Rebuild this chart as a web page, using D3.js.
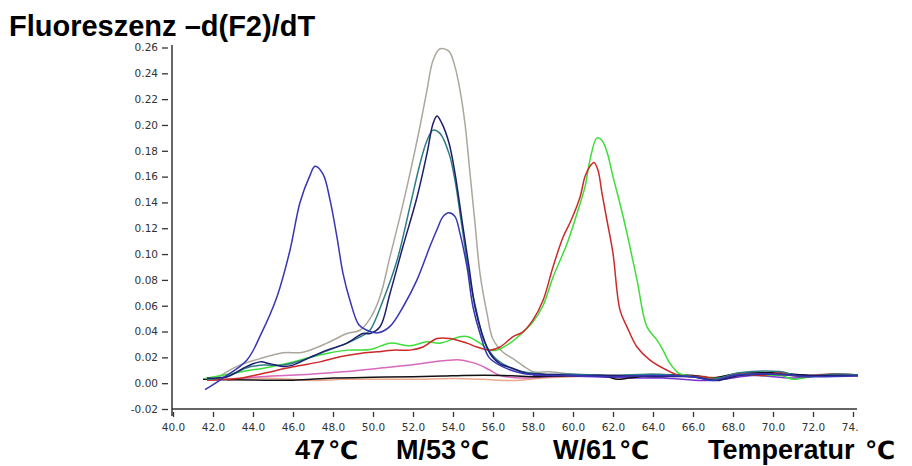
<!DOCTYPE html>
<html>
<head>
<meta charset="utf-8">
<script src="https://cdn.jsdelivr.net/npm/d3@7"></script>
<style>
  body { margin: 0; background: #fff; }
  svg { display: block; }
</style>
</head>
<body>
<div id="chart"></div>
<script>
// melting curves, [temperature, -d(F2)/dT]
const xTicks = [40, 42, 44, 46, 48, 50, 52, 54, 56, 58, 60, 62, 64, 66, 68, 70, 72, 74];
const yTicks = [-0.02, 0, 0.02, 0.04, 0.06, 0.08, 0.10, 0.12, 0.14, 0.16, 0.18, 0.20, 0.22, 0.24, 0.26];

const greyCurve = [[42,0.002],[43.2,0.013],[44.35,0.019],[45.5,0.0235],[46.5,0.024],[47.7,0.031],[48.7,0.0385],[49.35,0.041],[49.85,0.05],[50.35,0.067],[50.85,0.098],[51.35,0.129],[51.85,0.1625],[52.35,0.199],[52.7,0.227],[53.0,0.25],[53.35,0.259],[53.8,0.257],[54.1,0.245],[54.35,0.227],[54.6,0.201],[54.85,0.1625],[55.1,0.124],[55.35,0.085],[55.7,0.054],[56.0,0.034],[56.5,0.024],[57.0,0.019],[57.7,0.0114],[58.0,0.0088],[58.85,0.0088],[60,0.007],[62,0.006],[64,0.007],[65.5,0.006],[66.8,0.004],[67.7,0.005],[68.3,0.008],[69.5,0.006],[70.3,0.009],[71.2,0.005],[72.5,0.007],[74.5,0.006]];

const greenCurve = [[41.6,0.0036],[43.5,0.009],[44.85,0.0126],[46,0.0165],[46.85,0.02],[47.7,0.023],[48.7,0.0256],[49.85,0.026],[50.85,0.031],[51.85,0.029],[52.7,0.032],[53.35,0.031],[54.35,0.036],[54.75,0.036],[55.35,0.031],[55.85,0.0256],[56.2,0.0256],[56.85,0.031],[57.5,0.0395],[58,0.0475],[58.5,0.06],[59,0.082],[59.7,0.108],[60.2,0.1315],[60.6,0.152],[60.85,0.173],[61.2,0.19],[61.45,0.188],[61.7,0.179],[62,0.16],[62.35,0.139],[62.7,0.116],[63.2,0.08],[63.7,0.0436],[64.2,0.0333],[64.5,0.0256],[64.85,0.0153],[65.3,0.0075],[65.7,0.006],[66.6,0.004],[67.5,0.004],[68.3,0.007],[69.5,0.006],[70.4,0.006],[71,0.003],[72.3,0.006],[74.5,0.006]];

const redCurve = [[41.7,0.0023],[43.2,0.0036],[44.35,0.007],[46,0.0127],[47.35,0.0165],[48.35,0.0204],[49.35,0.023],[50.2,0.0243],[51,0.0256],[51.85,0.0256],[52.5,0.028],[53.2,0.0346],[53.85,0.0346],[54.7,0.031],[55.2,0.028],[55.85,0.0256],[56.35,0.028],[57.0,0.036],[57.5,0.0398],[58,0.049],[58.5,0.064],[59,0.09],[59.5,0.113],[59.9,0.126],[60.35,0.144],[60.6,0.16],[60.85,0.168],[61.05,0.171],[61.25,0.165],[61.45,0.147],[61.7,0.126],[62,0.1005],[62.35,0.0566],[62.7,0.0436],[63.2,0.028],[63.85,0.0178],[64.7,0.01],[65.35,0.006],[66.5,0.005],[67.3,0.003],[68.2,0.007],[69.5,0.006],[70.3,0.008],[71.5,0.005],[72.8,0.007],[74.5,0.006]];

const pinkCurve = [[42.7,0.0023],[44.35,0.005],[46.85,0.007],[48.5,0.0088],[50.2,0.0114],[51.85,0.014],[53.5,0.0173],[54.35,0.018],[54.85,0.0165],[55.35,0.014],[55.85,0.01],[56.35,0.006],[57.5,0.004],[59,0.005],[61,0.006],[63,0.005],[65,0.006],[66.7,0.004],[68,0.006],[70,0.007],[72,0.006],[74.5,0.006]];

const salmonCurve = [[42.5,0.003],[44,0.004],[45.5,0.0035],[47,0.002],[48.5,0.003],[50,0.003],[52,0.003],[54,0.0036],[55.5,0.003],[57,0.002],[58.5,0.004],[60,0.005],[62,0.006],[64,0.005],[66,0.006],[67.5,0.004],[69,0.007],[71,0.006],[74.5,0.006]];

const blackCurve = [[41.5,0.003],[44,0.0025],[46,0.0023],[48,0.004],[50,0.0046],[52,0.005],[53.5,0.0055],[54.5,0.006],[56.5,0.006],[58,0.005],[60,0.006],[61.5,0.006],[62.2,0.003],[62.8,0.004],[64,0.006],[66,0.006],[67,0.004],[68,0.007],[70,0.008],[72,0.006],[74.5,0.006]];

const purpleCurve = [[58,0.006],[61,0.005],[63,0.004],[64.5,0.004],[66.5,0.002],[67.5,0.003],[69,0.006],[71,0.004],[72.5,0.006],[74.5,0.006]];

const tealCurve = [[41.7,0.003],[42.7,0.005],[43.7,0.012],[44.5,0.014],[45.5,0.014],[46.5,0.018],[47.7,0.025],[48.7,0.031],[49.5,0.037],[49.85,0.041],[50.5,0.064],[51.2,0.095],[51.85,0.137],[52.35,0.17],[52.7,0.188],[53.0,0.196],[53.35,0.1935],[53.8,0.178],[54.1,0.157],[54.45,0.121],[54.85,0.08],[55.2,0.054],[55.6,0.031],[56.2,0.018],[57.2,0.01],[58.5,0.007],[60,0.007],[62,0.006],[64,0.007],[66,0.005],[67,0.003],[68.3,0.008],[70.3,0.009],[71.5,0.005],[73,0.007],[74.5,0.006]];

const navyCurve = [[41.7,0.004],[42.7,0.005],[43.7,0.013],[44.35,0.0165],[44.85,0.015],[45.5,0.013],[46,0.014],[46.85,0.02],[47.7,0.0256],[48.7,0.031],[49.5,0.0385],[49.85,0.0385],[50.35,0.0437],[50.85,0.0695],[51.5,0.106],[52.2,0.144],[52.7,0.178],[53.0,0.201],[53.2,0.207],[53.45,0.201],[53.8,0.186],[54.1,0.1625],[54.45,0.126],[54.8,0.09],[55.1,0.059],[55.45,0.0385],[55.85,0.023],[56.35,0.015],[57.0,0.0114],[57.7,0.0075],[58.5,0.007],[60,0.006],[62,0.006],[64,0.005],[66,0.005],[67.2,0.002],[68.3,0.006],[70,0.007],[71.5,0.006],[74.5,0.006]];

const blueCurve = [[41.6,-0.005],[42.5,0.004],[43.7,0.018],[44.4,0.038],[45.2,0.067],[45.85,0.103],[46.35,0.14],[46.85,0.161],[47.1,0.168],[47.5,0.162],[47.85,0.142],[48.2,0.113],[48.5,0.085],[48.85,0.064],[49.3,0.045],[49.7,0.041],[50.25,0.039],[50.85,0.044],[51.5,0.059],[52.2,0.08],[52.85,0.106],[53.2,0.119],[53.5,0.129],[53.8,0.132],[54.1,0.129],[54.35,0.116],[54.7,0.09],[55.0,0.059],[55.35,0.0385],[55.8,0.02],[56.5,0.0126],[57.5,0.0075],[58.5,0.006],[60,0.006],[62,0.005],[64,0.006],[66,0.005],[67,0.002],[68,0.006],[70,0.007],[72,0.005],[74.5,0.006]];

const seriesList = [
	{ data: greyCurve, color: '#aba79d' },
	{ data: salmonCurve, color: '#eba88c' },
	{ data: pinkCurve, color: '#d868bd' },
	{ data: purpleCurve, color: '#7d33d2' },
	{ data: blackCurve, color: '#111111' },
	{ data: greenCurve, color: '#3ede3a' },
	{ data: redCurve, color: '#cc2a2a' },
	{ data: tealCurve, color: '#2f7d84' },
	{ data: navyCurve, color: '#1d1d6c' },
	{ data: blueCurve, color: '#3535b6' }
];

const width = 912;
const height = 466;

const svg = d3.select('#chart').append('svg')
	.attr('width', width)
	.attr('height', height);

const x = d3.scaleLinear().domain([40, 74]).range([173, 853]);
const y = d3.scaleLinear().domain([-0.02, 0.26]).range([409, 47.5]);

// the original screenshot is cut off at the right edge of the plot
svg.append('clipPath')
	.attr('id', 'cut')
	.append('rect')
	.attr('x', 0).attr('y', 0)
	.attr('width', 858).attr('height', 440);

const plot = svg.append('g').attr('clip-path', 'url(#cut)');

// y axis
const yAxis = plot.append('g')
	.attr('transform', 'translate(168,0)')
	.call(d3.axisLeft(y).tickValues(yTicks).tickSize(6).tickPadding(4).tickFormat(d => d.toFixed(2)));
yAxis.select('.domain').remove();
yAxis.selectAll('line').attr('stroke', '#333').attr('stroke-width', 1.3);
yAxis.selectAll('text')
	.style('font-family', 'DejaVu Sans, sans-serif')
	.style('font-size', '10.5px')
	.style('fill', '#333');

// x axis
const xAxis = plot.append('g')
	.attr('transform', 'translate(0,412)')
	.call(d3.axisBottom(x).tickValues(xTicks).tickSize(5).tickPadding(7).tickFormat(d => d.toFixed(1)));
xAxis.select('.domain').remove();
xAxis.selectAll('line').attr('stroke', '#333').attr('stroke-width', 1.3);
xAxis.selectAll('text')
	.style('font-family', 'DejaVu Sans, sans-serif')
	.style('font-size', '10.5px')
	.style('fill', '#333');

plot.append('line')
	.attr('x1', 172).attr('x2', 172)
	.attr('y1', 45).attr('y2', 416)
	.attr('stroke', '#333').attr('stroke-width', 1.5);

plot.append('line')
	.attr('x1', 172).attr('x2', 857)
	.attr('y1', 409).attr('y2', 409)
	.attr('stroke', '#333').attr('stroke-width', 1.5);

const line = d3.line()
	.x(d => x(d[0]))
	.y(d => y(d[1]))
	.curve(d3.curveCatmullRom.alpha(0.5));

plot.selectAll('.curve')
	.data(seriesList)
	.enter()
	.append('path')
	.attr('class', 'curve')
	.attr('d', d => line(d.data))
	.attr('fill', 'none')
	.attr('stroke', d => d.color)
	.attr('stroke-width', 1.5)
	.attr('stroke-linejoin', 'round');

// title
svg.append('text')
	.attr('x', 9)
	.attr('y', 36)
	.style('font-family', 'Liberation Sans, Arial, sans-serif')
	.style('font-weight', '700')
	.style('font-size', '29px')
	.style('fill', '#000')
	.text('Fluoreszenz \u2013d(F2)/dT');

// peak labels under the axis
const bottomLabels = [
	{ text: '47', x: 295 },
	{ text: 'M/53', x: 396 },
	{ text: 'W/61', x: 553 },
	{ text: 'Temperatur ', x: 708 }
];

const labels = svg.selectAll('.peak-label')
	.data(bottomLabels)
	.enter()
	.append('text')
	.attr('class', 'peak-label')
	.attr('x', d => d.x)
	.attr('y', 459)
	.style('font-family', 'Liberation Sans, Arial, sans-serif')
	.style('font-weight', '700')
	.style('font-size', '27px')
	.style('fill', '#000');

labels.append('tspan').text(d => d.text);
labels.append('tspan')
	.attr('dx', 3)
	.style('font-family', 'DejaVu Sans, sans-serif')
	.style('font-size', '25px')
	.text('\u2103');
</script>
</body>
</html>
